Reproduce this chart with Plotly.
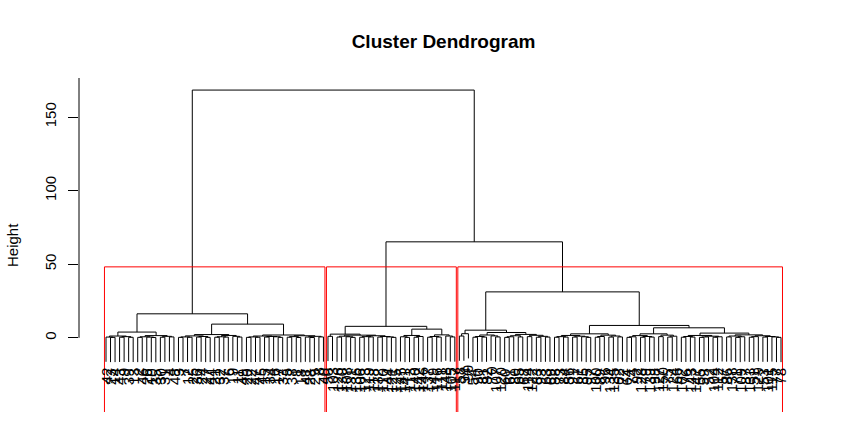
import plotly.graph_objects as go

# ---------------- data: hierarchical clustering tree ----------------
# node = [merge height, left child, right child]; leaf = observation label
A1a = [1.2, [0.5, 42, [0.3, 23, 14]], [0.8, [0.4, 43, 9], [0.35, 39, 13]]]
A1b = [1.5, [0.7, [0.3, 2, 46], [0.5, 26, [0.2, 10, 35]]], [1.0, [0.4, 30, 31], [0.6, 4, 48]]]
A2a = [2.2, [1.3, [0.6, [0.3, 3, 7], [0.4, 12, 25]], [0.9, [0.5, 36, 24], [0.3, 27, 44]]],
       [1.6, [0.7, [0.4, 21, 32], [0.5, 37, 6]], [1.0, 19, [0.5, 11, 49]]]]
A2b = [1.9, [1.2, [0.6, [0.3, 20, 22], [0.4, 47, 45]], [0.9, [0.5, 15, 34], [0.7, 16, [0.3, 17, 33]]]],
       [1.4, [0.8, [0.4, 5, 38], [0.2, 1, 18]], [1.0, [0.5, 41, [0.2, 28, 29]], [0.6, 8, 40]]]]
A1 = [3.9, A1a, A1b]
A2 = [9.3, A2a, A2b]
A = [16.3, A1, A2]

B1R = [1.8, [1.1, [0.5, 126, 130], [0.7, 108, [0.3, 131, 136]]],
       [1.4, [0.8, [0.4, 106, 123], [0.6, 119, 118]], [0.9, [0.5, 132, 110], [0.6, 144, [0.3, 121, 125]]]]]
B1 = [2.5, [1.0, 50, 103], B1R]
B2L = [1.6, [0.7, 145, [0.3, 141, 113]], [0.9, [0.4, 140, 142], 146]]
B2R = [2.0, [0.9, [0.4, 137, 149], [0.5, 116, 111]], [1.2, 148, [0.6, 105, 117]]]
B2 = [5.9, B2L, B2R]
B = [7.8, B1, B2]

C1L = [2.8, [1.2, 58, 94], 99]
C1Ra = [1.9, [0.9, [0.4, 54, 90], [0.5, 81, 82]], [1.3, 70, [0.6, 107, 120]]]
C1Rb = [2.3, [1.4, [0.7, [0.3, 60, 61], 80], [0.6, 65, 68]],
        [1.7, [0.8, 114, 122], [1.0, [0.4, 83, 93], [0.5, 63, 69]]]]
C1R = [3.6, C1Ra, C1Rb]
C1 = [5.2, C1L, C1R]
CLa = [1.6, [0.8, [0.4, 88, 73], [0.5, 84, 56]], [1.1, [0.5, 91, 67], [0.7, 85, [0.3, 95, 97]]]]
CLb = [1.8, [0.9, [0.4, 100, 89], 96], [1.2, [0.5, 134, 135], [0.6, 62, 72]]]
CL = [2.7, CLa, CLb]
CRa = [2.7, [1.5, [0.7, [0.3, 64, 74], 92], [0.9, [0.4, 128, 79], [0.5, 139, 98]]],
       [1.8, [0.8, 127, 150], [1.1, [0.5, 75, 124], 66]]]
CRb1 = [1.6, [0.9, [0.4, 102, 76], [0.5, 143, 147]], [1.1, [0.6, [0.3, 55, 59], 52], [0.7, [0.4, 104, 112], 57]]]
CRb2 = [2.0, [1.2, [0.6, 86, 138], [0.7, [0.3, 71, 109], 87]],
        [1.4, [0.8, [0.4, 133, 51], 129], [0.9, [0.5, 53, 101], [0.6, 115, [0.3, 77, 78]]]]]
CRb = [3.2, CRb1, CRb2]
CR = [6.8, CRa, CRb]
C2 = [8.4, CL, CR]
C = [31.2, C1, C2]
BC = [65.2, B, C]
root = [168.3, A, BC]

k_clusters = 3
y_ticks = [0, 50, 100, 150]
title_text = "Cluster Dendrogram"
y_title = "Height"

# ---------------- style ----------------
FONT = "Liberation Sans, Arial, sans-serif"
HANG = 0.1
Y_RANGE = [-50.4, 176.5]
ML, MR, MT, MB = 79, 42, 78, 13
PLOT_W = 850 - ML - MR

def is_leaf(nd):
    return not isinstance(nd, list)

leaf_order = []
all_heights = []
def collect(nd):
    if is_leaf(nd):
        leaf_order.append(nd)
        return
    all_heights.append(nd[0])
    collect(nd[1]); collect(nd[2])
collect(root)
n = len(leaf_order)
xpos = {lab: i + 1 for i, lab in enumerate(leaf_order)}
hang = HANG * (max(all_heights) - min(all_heights))

xs, ys = [], []
leaf_bottom = {}
def draw(nd):
    if is_leaf(nd):
        return xpos[nd], None
    h = nd[0]
    x1, h1 = draw(nd[1])
    x2, h2 = draw(nd[2])
    if h1 is None:
        h1 = h - hang; leaf_bottom[nd[1]] = h1
    if h2 is None:
        h2 = h - hang; leaf_bottom[nd[2]] = h2
    xs.extend([x1, x1, x2, x2, None])
    ys.extend([h1, h, h, h2, None])
    return (x1 + x2) / 2, h
draw(root)

# cut into k clusters
groups = [root]
while len(groups) < k_clusters:
    j = max(range(len(groups)), key=lambda t: groups[t][0] if not is_leaf(groups[t]) else -1)
    g = groups.pop(j)
    groups[j:j] = [g[1], g[2]]
def count(nd):
    return 1 if is_leaf(nd) else count(nd[1]) + count(nd[2])
sizes = [count(g) for g in groups]
hs = sorted(all_heights, reverse=True)
cut_h = (hs[k_clusters - 2] + hs[k_clusters - 1]) / 2

fig = go.Figure()
fig.add_trace(go.Scatter(x=xs, y=ys, mode="lines", line=dict(color="black", width=1),
                         hoverinfo="skip", showlegend=False))

shapes = []
m = 0
for s in sizes:
    xl = m + 0.66
    xr = m + s + 0.33
    m += s
    shapes.append(dict(type="path", xref="x", yref="y",
                       path=f"M {xl},{Y_RANGE[0]} L {xl},{cut_h} L {xr},{cut_h} L {xr},{Y_RANGE[0]}",
                       line=dict(color="#FF0000", width=1)))
# y axis line from 0 to top
shapes.append(dict(type="line", xref="paper", yref="y", x0=0, x1=0, y0=y_ticks[0], y1=Y_RANGE[1],
                   line=dict(color="black", width=1)))

annotations = []
for lab in leaf_order:
    annotations.append(dict(x=xpos[lab], y=leaf_bottom[lab], xref="x", yref="y", text=str(lab),
                            textangle=-90, showarrow=False, xanchor="center", yanchor="top",
                            yshift=-4, font=dict(family=FONT, size=15, color="black")))
annotations.append(dict(x=-67 / PLOT_W, y=0.5,
                        xref="paper", yref="paper", text=y_title, textangle=-90, showarrow=False,
                        xanchor="center", yanchor="middle", font=dict(family=FONT, size=15, color="black")))

fig.update_layout(
    width=850, height=425,
    margin=dict(l=ML, r=MR, t=MT, b=MB),
    paper_bgcolor="white", plot_bgcolor="white",
    title=dict(text=f"<b>{title_text}</b>", x=(ML + PLOT_W / 2) / 850, xanchor="center", y=1 - 41 / 425,
               yanchor="middle", yref="container", font=dict(family=FONT, size=19, color="black")),
    xaxis=dict(range=[1 - 0.04 * (n - 1), n + 0.04 * (n - 1)], visible=False),
    yaxis=dict(range=Y_RANGE, tickvals=y_ticks, ticks="outside", ticklen=10, tickcolor="black",
               tickwidth=1, tickangle=-90, showgrid=False, zeroline=False, showline=False,
               ticklabelstandoff=6, tickfont=dict(family=FONT, size=15, color="black")),
    shapes=shapes, annotations=annotations, showlegend=False,
)
fig.write_html("out.html", config={"displayModeBar": False})
